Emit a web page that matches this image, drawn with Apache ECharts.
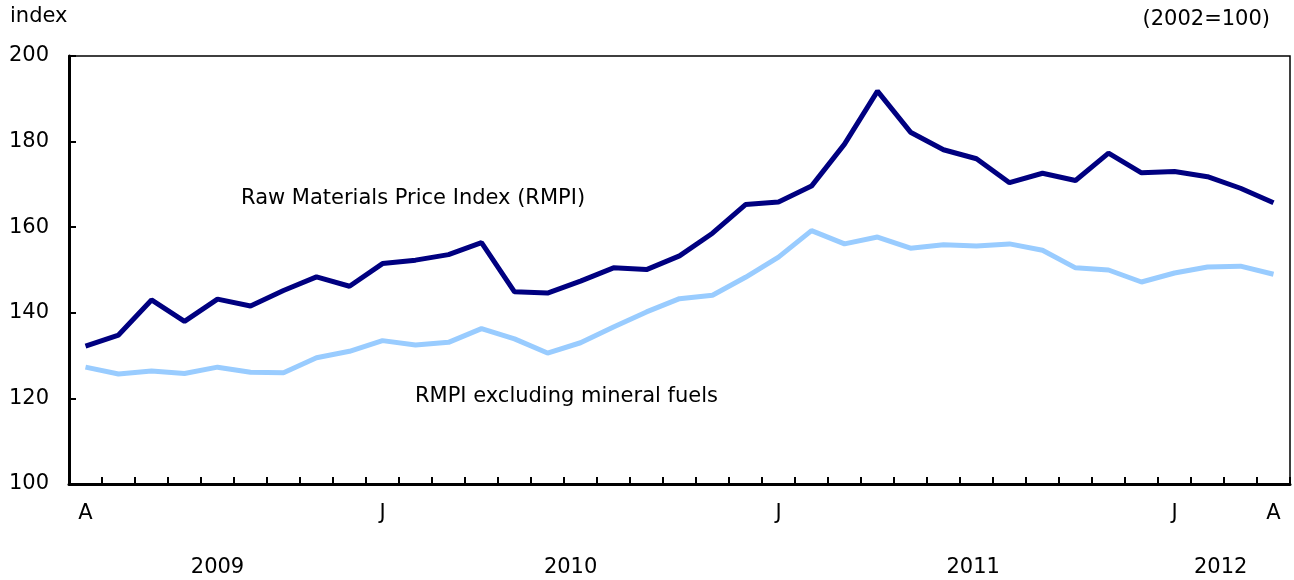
<html>
  <head>
    <meta http-equiv="Content-Type" content="text/html; charset=utf-8" />
    <script src="https://cdn.jsdelivr.net/npm/echarts@6/dist/echarts.min.js"></script>
    <style>body{margin:0;}</style>
  </head>
  <body>
    <div id="main" style="width: 1294px;height:580px;"></div>
    <script type="text/javascript">
// monthly, April 2009 to April 2012
var months = ['A','M','J','J','A','S','O','N','D',
  'J','F','M','A','M','J','J','A','S','O','N','D',
  'J','F','M','A','M','J','J','A','S','O','N','D',
  'J','F','M','A'];
var monthLabelIdx = [0, 9, 21, 33, 36];
var years = ['2009', '2010', '2011', '2012'];
var yearPos = [4, 14.7, 26.9, 34.4];

var rmpi = [132.2, 134.8, 143.0, 138.0, 143.2, 141.6, 145.2, 148.4, 146.2, 151.5,
  152.3, 153.6, 156.4, 144.9, 144.6, 147.4, 150.5, 150.1, 153.3, 158.6,
  165.3, 165.9, 169.6, 179.4, 191.8, 182.2, 178.1, 176.0, 170.4, 172.6,
  170.9, 177.3, 172.7, 173.0, 171.8, 169.1, 165.7];
var rmpiExFuels = [127.3, 125.7, 126.4, 125.8, 127.3, 126.1, 126.0, 129.5, 131.0, 133.5,
  132.5, 133.1, 136.3, 133.9, 130.6, 133.0, 136.7, 140.2, 143.3, 144.1,
  148.3, 153.0, 159.2, 156.1, 157.7, 155.1, 155.9, 155.6, 156.1, 154.6,
  150.5, 150.0, 147.2, 149.3, 150.7, 150.9, 149.0];

var myChart = echarts.init(document.getElementById('main'));
var font = 'DejaVu Sans';
var txt = '21px "DejaVu Sans"';

var option = {
  animation: false,
  textStyle: {fontFamily: font},
  grid: {
    left: 69, right: 4, top: 56, bottom: 96,
    show: true, borderColor: '#000', borderWidth: 1.5
  },
  graphic: [
    {type: 'text', left: 10, top: 6, style: {text: 'index', font: txt, fill: '#000'}},
    {type: 'text', right: 24, top: 9, style: {text: '(2002=100)', font: txt, fill: '#000'}},
    {type: 'text', left: 241, top: 188, style: {text: 'Raw Materials Price Index (RMPI)', font: txt, fill: '#000'}},
    {type: 'text', left: 415, top: 386, style: {text: 'RMPI excluding mineral fuels', font: txt, fill: '#000'}}
  ],
  xAxis: [
    {
      type: 'category',
      data: months,
      boundaryGap: true,
      axisLine: {lineStyle: {color: '#000', width: 3}},
      axisTick: {show: true, inside: true, length: 7, interval: 0, lineStyle: {color: '#000', width: 2}},
      axisLabel: {
        color: '#000', fontSize: 21, margin: 19,
        interval: function (idx) { return monthLabelIdx.indexOf(idx) >= 0; }
      },
      splitLine: {show: false}
    },
    {
      type: 'value',
      position: 'bottom',
      min: -0.5, max: 36.5,
      axisLine: {show: false},
      axisTick: {show: false},
      splitLine: {show: false},
      axisLabel: {
        color: '#000', fontSize: 21, margin: 73,
        customValues: yearPos,
        formatter: function (v) { return years[yearPos.indexOf(v)]; }
      }
    }
  ],
  yAxis: {
    type: 'value',
    min: 100, max: 200, interval: 20,
    axisLine: {show: true, onZero: false, lineStyle: {color: '#000', width: 3}},
    axisTick: {show: true, inside: true, length: 7, lineStyle: {color: '#000', width: 2}},
    axisLabel: {color: '#000', fontSize: 21, margin: 20},
    splitLine: {show: false}
  },
  series: [
    {
      name: 'Raw Materials Price Index (RMPI)',
      type: 'line', data: rmpi, symbol: 'none',
      lineStyle: {color: '#000080', width: 5}
    },
    {
      name: 'RMPI excluding mineral fuels',
      type: 'line', data: rmpiExFuels, symbol: 'none',
      lineStyle: {color: '#99ccff', width: 5}
    }
  ]
};

myChart.setOption(option);
    </script>
  </body>
</html>
